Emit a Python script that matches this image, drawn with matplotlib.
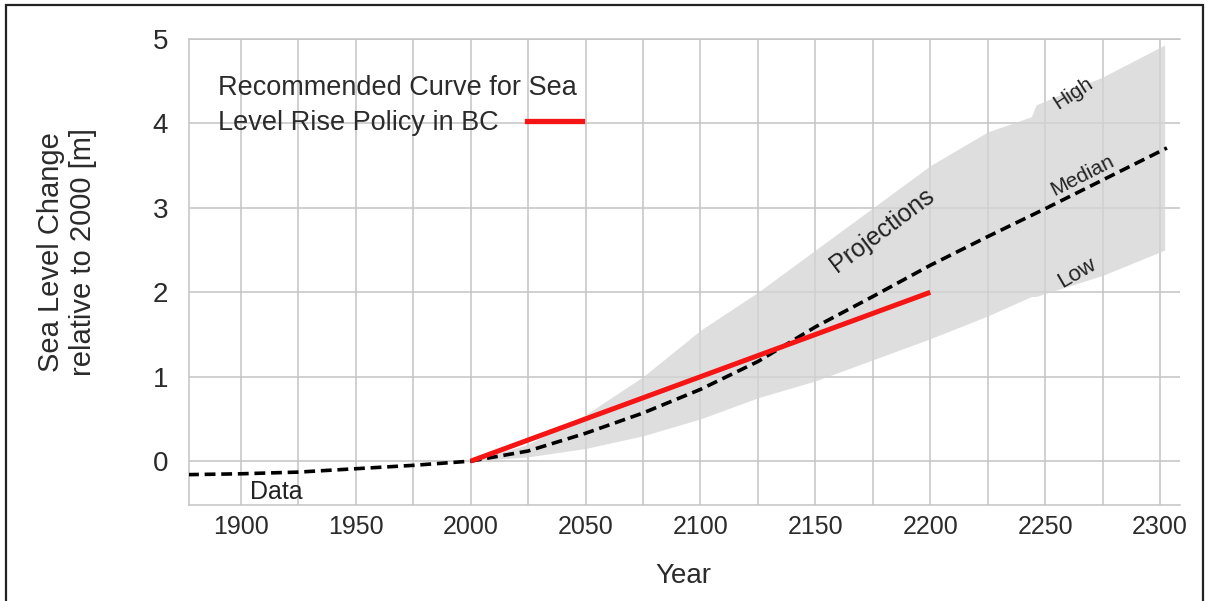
import numpy as np
import matplotlib
matplotlib.use("Agg")
import matplotlib.pyplot as plt
from matplotlib.patches import Rectangle

plt.rcParams['font.family'] = ['Liberation Sans', 'DejaVu Sans']

# observed data (dashed, before 2000)
data_years = [1877, 1900, 1925, 1950, 1975, 2000]
data_vals = [-0.16, -0.15, -0.13, -0.09, -0.05, 0.0]

# median projection (dashed)
med_years = [2000, 2025, 2050, 2075, 2100, 2125, 2150, 2175, 2200, 2225, 2250, 2275, 2303]
med_vals = [0.0, 0.12, 0.33, 0.57, 0.85, 1.18, 1.59, 1.95, 2.32, 2.66, 2.99, 3.33, 3.71]

# projection band (low / high)
band_years = [2000, 2025, 2050, 2075, 2100, 2125, 2150, 2175, 2200, 2225, 2244, 2246, 2275, 2302]
band_high = [0.0, 0.2, 0.55, 1.0, 1.55, 2.0, 2.5, 3.0, 3.5, 3.9, 4.08, 4.22, 4.55, 4.93]
band_low = [0.0, 0.05, 0.15, 0.3, 0.5, 0.75, 0.95, 1.2, 1.45, 1.72, 1.95, 1.95, 2.2, 2.5]

# recommended BC policy curve (red)
bc_years = [2000, 2100, 2200]
bc_vals = [0.0, 1.0, 2.0]

xticks = [1900, 1950, 2000, 2050, 2100, 2150, 2200, 2250, 2300]
yticks = [0, 1, 2, 3, 4, 5]

fig = plt.figure(figsize=(12.05, 6.01), dpi=100)
ax = fig.add_axes([0.1568, 0.1597, 0.8225, 0.7753])

txt = '#2b2b2b'
grid_c = '#c4c4c4'

ax.set_xlim(1877.4, 2308.7)
ax.set_ylim(-0.52, 5)
ax.set_xticks(xticks)
ax.set_xticks(np.arange(1900, 2301, 25), minor=True)
ax.set_yticks(yticks)
ax.grid(True, which='both', axis='x', color=grid_c, lw=1.1)
ax.grid(True, which='major', axis='y', color=grid_c, lw=1.1)
ax.set_axisbelow(True)
ax.tick_params(which='both', length=0)
ax.tick_params(axis='x', pad=7, labelsize=18, labelcolor=txt)
ax.tick_params(axis='y', pad=15, labelsize=20, labelcolor=txt)
for side in ['left', 'bottom', 'top']:
    ax.spines[side].set_color(grid_c)
    ax.spines[side].set_linewidth(1.1)
ax.spines['right'].set_visible(False)

ax.fill_between(band_years, band_low, band_high, color='#d4d4d4', alpha=0.75, lw=0, zorder=2)

ax.plot(data_years, data_vals, color='black', lw=2.6, dashes=(3, 1.6), zorder=3)
ax.plot(med_years, med_vals, color='black', lw=2.6, dashes=(3, 1.6), zorder=3)
ax.plot(bc_years, bc_vals, color='#f51515', lw=3.6, zorder=4, solid_capstyle='butt')

ax.text(2179, 2.74, 'Projections', rotation=37, fontsize=18, color='#222222',
        ha='center', va='center', zorder=5)
ax.text(2262, 4.36, 'High', rotation=33, fontsize=15, color='#222222',
        ha='center', va='center', zorder=5)
ax.text(2266, 3.38, 'Median', rotation=27, fontsize=15, color='#222222',
        ha='center', va='center', zorder=5)
ax.text(2264, 2.23, 'Low', rotation=30, fontsize=16, color='#222222',
        ha='center', va='center', zorder=5)
ax.text(1915.5, -0.37, 'Data', fontsize=18, color='#222222',
        ha='center', va='center', zorder=5)

# legend-like label with red sample
fig.text(218 / 1205, 1 - 88 / 601, 'Recommended Curve for Sea', fontsize=19.5,
         color=txt, ha='left', va='center')
fig.text(218 / 1205, 1 - 123 / 601, 'Level Rise Policy in BC', fontsize=19.5,
         color=txt, ha='left', va='center')
fig.add_artist(plt.Line2D([527 / 1205, 582 / 1205], [1 - 121 / 601, 1 - 121 / 601],
                          color='#f51515', lw=3.8, transform=fig.transFigure))

fig.text(67 / 1205, 1 - 252 / 601, 'Sea Level Change\nrelative to 2000 [m]',
         rotation=90, fontsize=21, color=txt, ha='center', va='center',
         multialignment='center', linespacing=1.15)
fig.text(683 / 1205, 1 - 576 / 601, 'Year', fontsize=20, color=txt,
         ha='center', va='center')

# outer frame
fig.add_artist(Rectangle((6 / 1205, -0.02), 1197 / 1205, 1.02 - 5 / 601,
                         transform=fig.transFigure, fill=False,
                         edgecolor='#222222', lw=1.6))

fig.savefig('out.png', dpi=100)
